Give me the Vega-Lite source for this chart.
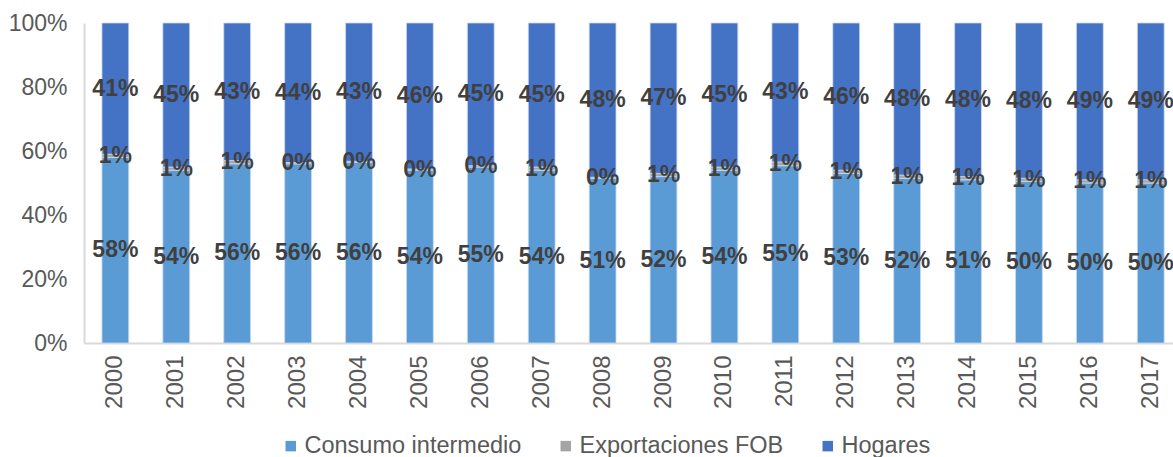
{
  "$schema": "https://vega.github.io/schema/vega-lite/v6.json",
  "width": 1089,
  "height": 320,
  "autosize": {"type": "none"},
  "padding": {"left": 84, "top": 23, "right": 0, "bottom": 114},
  "background": "white",
  "config": {
    "view": {"stroke": null},
    "font": "Liberation Sans"
  },
  "data": {
    "values": [
      {"year": "2000", "serie": "Consumo intermedio", "value": 0.58},
      {"year": "2000", "serie": "Exportaciones FOB", "value": 0.01},
      {"year": "2000", "serie": "Hogares", "value": 0.41},
      {"year": "2001", "serie": "Consumo intermedio", "value": 0.54},
      {"year": "2001", "serie": "Exportaciones FOB", "value": 0.01},
      {"year": "2001", "serie": "Hogares", "value": 0.45},
      {"year": "2002", "serie": "Consumo intermedio", "value": 0.56},
      {"year": "2002", "serie": "Exportaciones FOB", "value": 0.01},
      {"year": "2002", "serie": "Hogares", "value": 0.43},
      {"year": "2003", "serie": "Consumo intermedio", "value": 0.56},
      {"year": "2003", "serie": "Exportaciones FOB", "value": 0.004},
      {"year": "2003", "serie": "Hogares", "value": 0.436},
      {"year": "2004", "serie": "Consumo intermedio", "value": 0.564},
      {"year": "2004", "serie": "Exportaciones FOB", "value": 0.004},
      {"year": "2004", "serie": "Hogares", "value": 0.432},
      {"year": "2005", "serie": "Consumo intermedio", "value": 0.54},
      {"year": "2005", "serie": "Exportaciones FOB", "value": 0.004},
      {"year": "2005", "serie": "Hogares", "value": 0.456},
      {"year": "2006", "serie": "Consumo intermedio", "value": 0.55},
      {"year": "2006", "serie": "Exportaciones FOB", "value": 0.004},
      {"year": "2006", "serie": "Hogares", "value": 0.446},
      {"year": "2007", "serie": "Consumo intermedio", "value": 0.54},
      {"year": "2007", "serie": "Exportaciones FOB", "value": 0.01},
      {"year": "2007", "serie": "Hogares", "value": 0.45},
      {"year": "2008", "serie": "Consumo intermedio", "value": 0.514},
      {"year": "2008", "serie": "Exportaciones FOB", "value": 0.004},
      {"year": "2008", "serie": "Hogares", "value": 0.482},
      {"year": "2009", "serie": "Consumo intermedio", "value": 0.52},
      {"year": "2009", "serie": "Exportaciones FOB", "value": 0.01},
      {"year": "2009", "serie": "Hogares", "value": 0.47},
      {"year": "2010", "serie": "Consumo intermedio", "value": 0.54},
      {"year": "2010", "serie": "Exportaciones FOB", "value": 0.01},
      {"year": "2010", "serie": "Hogares", "value": 0.45},
      {"year": "2011", "serie": "Consumo intermedio", "value": 0.554},
      {"year": "2011", "serie": "Exportaciones FOB", "value": 0.012},
      {"year": "2011", "serie": "Hogares", "value": 0.434},
      {"year": "2012", "serie": "Consumo intermedio", "value": 0.53},
      {"year": "2012", "serie": "Exportaciones FOB", "value": 0.01},
      {"year": "2012", "serie": "Hogares", "value": 0.46},
      {"year": "2013", "serie": "Consumo intermedio", "value": 0.516},
      {"year": "2013", "serie": "Exportaciones FOB", "value": 0.01},
      {"year": "2013", "serie": "Hogares", "value": 0.476},
      {"year": "2014", "serie": "Consumo intermedio", "value": 0.51},
      {"year": "2014", "serie": "Exportaciones FOB", "value": 0.01},
      {"year": "2014", "serie": "Hogares", "value": 0.48},
      {"year": "2015", "serie": "Consumo intermedio", "value": 0.504},
      {"year": "2015", "serie": "Exportaciones FOB", "value": 0.01},
      {"year": "2015", "serie": "Hogares", "value": 0.484},
      {"year": "2016", "serie": "Consumo intermedio", "value": 0.50},
      {"year": "2016", "serie": "Exportaciones FOB", "value": 0.01},
      {"year": "2016", "serie": "Hogares", "value": 0.49},
      {"year": "2017", "serie": "Consumo intermedio", "value": 0.50},
      {"year": "2017", "serie": "Exportaciones FOB", "value": 0.01},
      {"year": "2017", "serie": "Hogares", "value": 0.49}
    ]
  },
  "encoding": {
    "x": {
      "field": "year",
      "type": "nominal",
      "scale": {"paddingInner": 0.56, "paddingOuter": 0.22, "align": 0.67},
      "axis": {
        "title": null,
        "labelAngle": -90,
        "labelFontSize": 24,
        "labelColor": "#595959",
        "labelPadding": 12,
        "ticks": false,
        "domainColor": "#d9d9d9",
        "domainWidth": 2
      }
    },
    "y": {
      "field": "value",
      "type": "quantitative",
      "stack": "normalize",
      "scale": {"domain": [0, 1]},
      "axis": {
        "title": null,
        "format": ".0%",
        "values": [0, 0.2, 0.4, 0.6, 0.8, 1],
        "labelFontSize": 23,
        "labelColor": "#595959",
        "labelPadding": 17,
        "ticks": false,
        "grid": false,
        "domainColor": "#d9d9d9",
        "domainWidth": 2
      }
    },
    "order": {"field": "serie", "sort": "ascending"}
  },
  "layer": [
    {
      "mark": {"type": "bar", "stroke": "#c9d9f0", "strokeWidth": 0.8},
      "encoding": {
        "color": {
          "field": "serie",
          "type": "nominal",
          "scale": {
            "domain": ["Consumo intermedio", "Exportaciones FOB", "Hogares"],
            "range": ["#5b9bd5", "#a5a5a5", "#4472c4"]
          },
          "legend": {
            "title": null,
            "orient": "none",
            "direction": "horizontal",
            "legendX": 195,
            "legendY": 411,
            "symbolType": "square",
            "symbolSize": 110,
            "symbolStrokeWidth": 0,
            "labelFontSize": 23.5,
            "labelFont": "Liberation Sans",
            "labelLimit": 400,
            "labelColor": "#595959",
            "labelOffset": 2,
            "columnPadding": 32
          }
        }
      }
    },
    {
      "mark": {"type": "text", "fontSize": 23, "fontWeight": "bold", "color": "#404040", "baseline": "middle"},
      "encoding": {
        "y": {"field": "value", "type": "quantitative", "stack": "normalize", "bandPosition": 0.5},
        "text": {"field": "value", "type": "quantitative", "format": ".0%"}
      }
    }
  ]
}
